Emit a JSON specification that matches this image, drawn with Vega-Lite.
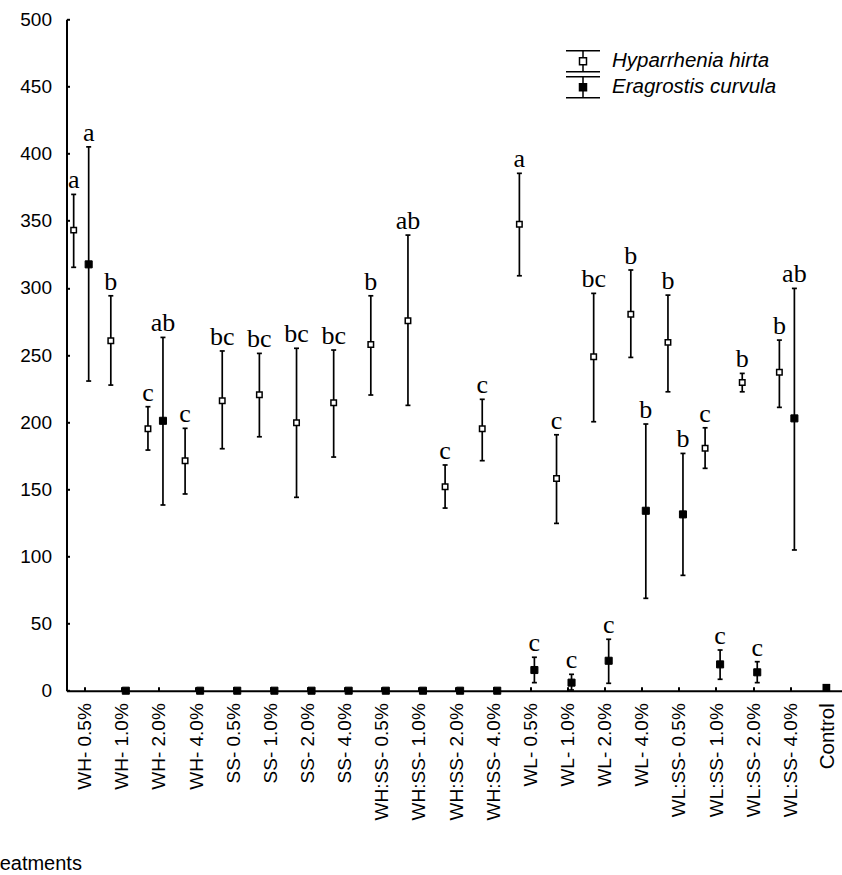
{
  "$schema": "https://vega.github.io/schema/vega-lite/v6.json",
  "width": 780,
  "height": 671.4,
  "autosize": {"type": "none"},
  "padding": {"left": 66.5, "top": 19.3, "right": -4.5, "bottom": 184.3},
  "background": "white",
  "config": {
    "view": {"stroke": null},
    "axisY": {"tickCount": 10, "labelFont": "Liberation Sans", "labelFontSize": 19, "labelColor": "black", "domainColor": "black", "domainWidth": 2, "tickColor": "black", "tickWidth": 2, "tickSize": -3, "labelPadding": 18, "grid": false},
    "axisX": {"labelAngle": 270, "labelFont": "Liberation Sans", "labelFontSize": 19, "labelColor": "black", "domainColor": "black", "domainWidth": 2, "tickColor": "black", "tickWidth": 2, "tickSize": -4, "labelPadding": 16, "grid": false, "labelOverlap": false, "titleFont": "Liberation Sans", "titleFontSize": 20, "titleColor": "black", "titleFontWeight": "normal", "titleX": -85.5, "titleY": 179, "titleAnchor": "start", "titleAlign": "left", "titleBaseline": "alphabetic", "titleAngle": 0}
  },
  "data": {"values": [
    {"treatment": "WH- 0.5%", "species": "Hyparrhenia hirta", "mean": 343, "lower": 315.3, "upper": 369.6, "letter": "a"},
    {"treatment": "WH- 1.0%", "species": "Hyparrhenia hirta", "mean": 260.6, "lower": 227.6, "upper": 294.1, "letter": "b"},
    {"treatment": "WH- 2.0%", "species": "Hyparrhenia hirta", "mean": 195.1, "lower": 179.2, "upper": 211.5, "letter": "c"},
    {"treatment": "WH- 4.0%", "species": "Hyparrhenia hirta", "mean": 171.3, "lower": 146.5, "upper": 195.4, "letter": "c"},
    {"treatment": "SS- 0.5%", "species": "Hyparrhenia hirta", "mean": 216, "lower": 180.2, "upper": 253, "letter": "bc"},
    {"treatment": "SS- 1.0%", "species": "Hyparrhenia hirta", "mean": 220.4, "lower": 189.1, "upper": 251.2, "letter": "bc"},
    {"treatment": "SS- 2.0%", "species": "Hyparrhenia hirta", "mean": 199.6, "lower": 144, "upper": 255, "letter": "bc"},
    {"treatment": "SS- 4.0%", "species": "Hyparrhenia hirta", "mean": 214.5, "lower": 174, "upper": 253.7, "letter": "bc"},
    {"treatment": "WH:SS- 0.5%", "species": "Hyparrhenia hirta", "mean": 257.9, "lower": 220.2, "upper": 294.1, "letter": "b"},
    {"treatment": "WH:SS- 1.0%", "species": "Hyparrhenia hirta", "mean": 275.5, "lower": 212.5, "upper": 339.3, "letter": "ab"},
    {"treatment": "WH:SS- 2.0%", "species": "Hyparrhenia hirta", "mean": 151.9, "lower": 136, "upper": 168.1, "letter": "c"},
    {"treatment": "WH:SS- 4.0%", "species": "Hyparrhenia hirta", "mean": 195.1, "lower": 171.3, "upper": 217, "letter": "c"},
    {"treatment": "WL- 0.5%", "species": "Hyparrhenia hirta", "mean": 347.3, "lower": 309, "upper": 385.3, "letter": "a"},
    {"treatment": "WL- 1.0%", "species": "Hyparrhenia hirta", "mean": 158.1, "lower": 124.6, "upper": 190.6, "letter": "c"},
    {"treatment": "WL- 2.0%", "species": "Hyparrhenia hirta", "mean": 248.7, "lower": 200.3, "upper": 295.9, "letter": "bc"},
    {"treatment": "WL- 4.0%", "species": "Hyparrhenia hirta", "mean": 280.3, "lower": 248.2, "upper": 313.3, "letter": "b"},
    {"treatment": "WL:SS- 0.5%", "species": "Hyparrhenia hirta", "mean": 259.4, "lower": 222.6, "upper": 294.6, "letter": "b"},
    {"treatment": "WL:SS- 1.0%", "species": "Hyparrhenia hirta", "mean": 180.5, "lower": 165.6, "upper": 195.8, "letter": "c"},
    {"treatment": "WL:SS- 2.0%", "species": "Hyparrhenia hirta", "mean": 229.6, "lower": 222.6, "upper": 236.3, "letter": "b"},
    {"treatment": "WL:SS- 4.0%", "species": "Hyparrhenia hirta", "mean": 237.1, "lower": 211, "upper": 261.1, "letter": "b"},
    {"treatment": "WH- 0.5%", "species": "Eragrostis curvula", "mean": 317.5, "lower": 230.6, "upper": 405, "letter": "a"},
    {"treatment": "WH- 1.0%", "species": "Eragrostis curvula", "mean": 0, "lower": 0, "upper": 0, "letter": ""},
    {"treatment": "WH- 2.0%", "species": "Eragrostis curvula", "mean": 201, "lower": 138.3, "upper": 263.1, "letter": "ab"},
    {"treatment": "WH- 4.0%", "species": "Eragrostis curvula", "mean": 0, "lower": 0, "upper": 0, "letter": ""},
    {"treatment": "SS- 0.5%", "species": "Eragrostis curvula", "mean": 0, "lower": 0, "upper": 0, "letter": ""},
    {"treatment": "SS- 1.0%", "species": "Eragrostis curvula", "mean": 0, "lower": 0, "upper": 0, "letter": ""},
    {"treatment": "SS- 2.0%", "species": "Eragrostis curvula", "mean": 0, "lower": 0, "upper": 0, "letter": ""},
    {"treatment": "SS- 4.0%", "species": "Eragrostis curvula", "mean": 0, "lower": 0, "upper": 0, "letter": ""},
    {"treatment": "WH:SS- 0.5%", "species": "Eragrostis curvula", "mean": 0, "lower": 0, "upper": 0, "letter": ""},
    {"treatment": "WH:SS- 1.0%", "species": "Eragrostis curvula", "mean": 0, "lower": 0, "upper": 0, "letter": ""},
    {"treatment": "WH:SS- 2.0%", "species": "Eragrostis curvula", "mean": 0, "lower": 0, "upper": 0, "letter": ""},
    {"treatment": "WH:SS- 4.0%", "species": "Eragrostis curvula", "mean": 0, "lower": 0, "upper": 0, "letter": ""},
    {"treatment": "WL- 0.5%", "species": "Eragrostis curvula", "mean": 15.4, "lower": 6, "upper": 24.9, "letter": "c"},
    {"treatment": "WL- 1.0%", "species": "Eragrostis curvula", "mean": 6, "lower": 0.5, "upper": 12.2, "letter": "c"},
    {"treatment": "WL- 2.0%", "species": "Eragrostis curvula", "mean": 22.3, "lower": 5.5, "upper": 38.3, "letter": "c"},
    {"treatment": "WL- 4.0%", "species": "Eragrostis curvula", "mean": 134, "lower": 68.8, "upper": 198.6, "letter": "b"},
    {"treatment": "WL:SS- 0.5%", "species": "Eragrostis curvula", "mean": 131.3, "lower": 85.9, "upper": 176.7, "letter": "b"},
    {"treatment": "WL:SS- 1.0%", "species": "Eragrostis curvula", "mean": 19.6, "lower": 8.5, "upper": 30.3, "letter": "c"},
    {"treatment": "WL:SS- 2.0%", "species": "Eragrostis curvula", "mean": 13.7, "lower": 6, "upper": 21.6, "letter": "c"},
    {"treatment": "WL:SS- 4.0%", "species": "Eragrostis curvula", "mean": 202.8, "lower": 104.8, "upper": 299.6, "letter": "ab"},
    {"treatment": "Control", "species": "Control", "mean": 2.2, "letter": ""}
  ]},
  "layer": [
    {
      "transform": [{"filter": "datum.species === 'Hyparrhenia hirta'"}],
      "encoding": {
        "x": {"field": "treatment", "type": "nominal", "title": "Treatments", "bandPosition": 0.193,
          "sort": ["WH- 0.5%","WH- 1.0%","WH- 2.0%","WH- 4.0%","SS- 0.5%","SS- 1.0%","SS- 2.0%","SS- 4.0%","WH:SS- 0.5%","WH:SS- 1.0%","WH:SS- 2.0%","WH:SS- 4.0%","WL- 0.5%","WL- 1.0%","WL- 2.0%","WL- 4.0%","WL:SS- 0.5%","WL:SS- 1.0%","WL:SS- 2.0%","WL:SS- 4.0%","Control"],
          "scale": {"type": "band", "paddingInner": 0, "paddingOuter": 0, "domain": ["WH- 0.5%","WH- 1.0%","WH- 2.0%","WH- 4.0%","SS- 0.5%","SS- 1.0%","SS- 2.0%","SS- 4.0%","WH:SS- 0.5%","WH:SS- 1.0%","WH:SS- 2.0%","WH:SS- 4.0%","WL- 0.5%","WL- 1.0%","WL- 2.0%","WL- 4.0%","WL:SS- 0.5%","WL:SS- 1.0%","WL:SS- 2.0%","WL:SS- 4.0%","Control"]},
          "axis": {"labelFontSize": {"condition": {"test": "datum.value === 'Control'", "value": 20.5}, "value": 19}}}
      },
      "layer": [
        {"mark": {"type": "rule", "color": "black", "strokeWidth": 1.7},
         "encoding": {"y": {"field": "lower", "type": "quantitative", "title": null, "scale": {"domain": [0, 500], "nice": false}}, "y2": {"field": "upper"}}},
        {"mark": {"type": "point", "shape": "M-1,0H1", "size": 25, "color": "black", "stroke": "black", "strokeWidth": 1.7, "filled": false, "opacity": 1},
         "encoding": {"y": {"field": "upper", "type": "quantitative", "title": null}}},
        {"mark": {"type": "point", "shape": "M-1,0H1", "size": 25, "color": "black", "stroke": "black", "strokeWidth": 1.7, "filled": false, "opacity": 1},
         "encoding": {"y": {"field": "lower", "type": "quantitative", "title": null}}},
        {"mark": {"type": "point", "shape": "square", "size": 30, "filled": true, "stroke": "black", "strokeWidth": 1.5, "opacity": 1},
         "encoding": {"y": {"field": "mean", "type": "quantitative", "title": null},
           "fill": {"field": "species", "type": "nominal",
             "scale": {"domain": ["Hyparrhenia hirta", "Eragrostis curvula"], "range": ["white", "black"]},
             "legend": {"title": null, "orient": "none", "legendX": 505.5, "legendY": 31, "padding": 0,
               "symbolType": "M-1.7,-1.05H1.7M-1.7,1.05H1.7M0,-1.05V-0.35M0,0.35V1.05M-0.35,-0.35H0.35V0.35H-0.35Z",
               "symbolSize": 400, "symbolStrokeColor": "black", "symbolStrokeWidth": 1.5, "symbolOpacity": 1,
               "labelFont": "Liberation Sans", "labelFontStyle": "italic", "labelFontSize": 20.5, "labelColor": "black",
               "labelOffset": 18, "labelLimit": 0, "rowPadding": -2,
               "encode": {"symbols": {"update": {"stroke": {"value": "black"}, "strokeWidth": {"value": 1.5}}}}}}}},
        {"mark": {"type": "text", "font": "Liberation Serif", "fontSize": 26, "baseline": "alphabetic", "dy": -6, "color": "black"},
         "encoding": {"y": {"field": "upper", "type": "quantitative", "title": null}, "text": {"field": "letter"}}}
      ]
    },
    {
      "transform": [{"filter": "datum.species === 'Eragrostis curvula'"}],
      "encoding": {
        "x": {"field": "treatment", "type": "nominal", "title": "Treatments", "bandPosition": 0.597,
          "sort": ["WH- 0.5%","WH- 1.0%","WH- 2.0%","WH- 4.0%","SS- 0.5%","SS- 1.0%","SS- 2.0%","SS- 4.0%","WH:SS- 0.5%","WH:SS- 1.0%","WH:SS- 2.0%","WH:SS- 4.0%","WL- 0.5%","WL- 1.0%","WL- 2.0%","WL- 4.0%","WL:SS- 0.5%","WL:SS- 1.0%","WL:SS- 2.0%","WL:SS- 4.0%","Control"]}
      },
      "layer": [
        {"mark": {"type": "rule", "color": "black", "strokeWidth": 1.7},
         "encoding": {"y": {"field": "lower", "type": "quantitative", "title": null}, "y2": {"field": "upper"}}},
        {"mark": {"type": "point", "shape": "M-1,0H1", "size": 25, "color": "black", "stroke": "black", "strokeWidth": 1.7, "filled": false, "opacity": 1},
         "encoding": {"y": {"field": "upper", "type": "quantitative", "title": null}}},
        {"mark": {"type": "point", "shape": "M-1,0H1", "size": 25, "color": "black", "stroke": "black", "strokeWidth": 1.7, "filled": false, "opacity": 1},
         "encoding": {"y": {"field": "lower", "type": "quantitative", "title": null}}},
        {"mark": {"type": "point", "shape": "square", "size": 50, "filled": true, "stroke": "black", "strokeWidth": 1, "opacity": 1},
         "encoding": {"y": {"field": "mean", "type": "quantitative", "title": null},
           "fill": {"field": "species", "type": "nominal"}}},
        {"mark": {"type": "text", "font": "Liberation Serif", "fontSize": 26, "baseline": "alphabetic", "dy": -6, "color": "black"},
         "encoding": {"y": {"field": "upper", "type": "quantitative", "title": null}, "text": {"field": "letter"}}}
      ]
    },
    {
      "transform": [{"filter": "datum.species === 'Control'"}],
      "mark": {"type": "point", "shape": "square", "size": 60, "filled": true, "color": "black", "opacity": 1},
      "encoding": {
        "x": {"field": "treatment", "type": "nominal", "title": "Treatments", "bandPosition": 0.458,
          "sort": ["WH- 0.5%","WH- 1.0%","WH- 2.0%","WH- 4.0%","SS- 0.5%","SS- 1.0%","SS- 2.0%","SS- 4.0%","WH:SS- 0.5%","WH:SS- 1.0%","WH:SS- 2.0%","WH:SS- 4.0%","WL- 0.5%","WL- 1.0%","WL- 2.0%","WL- 4.0%","WL:SS- 0.5%","WL:SS- 1.0%","WL:SS- 2.0%","WL:SS- 4.0%","Control"]},
        "y": {"field": "mean", "type": "quantitative", "title": null}
      }
    }
  ]
}
